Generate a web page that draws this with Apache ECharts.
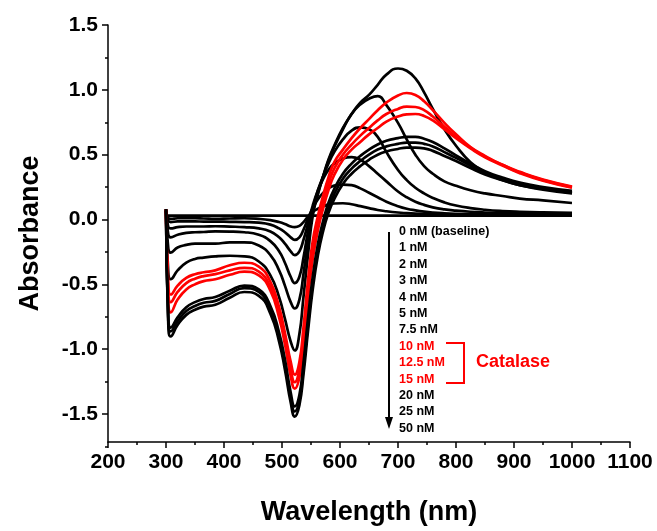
<!DOCTYPE html>
<html>
<head>
<meta charset="utf-8">
<script src="https://cdn.jsdelivr.net/npm/echarts@6/dist/echarts.min.js"></script>
<style>
html, body { margin: 0; padding: 0; background: #fff; }
#chart { width: 657px; height: 531px; }
</style>
</head>
<body>
<div id="chart"></div>
<script>
// wavelength grid (nm) shared by every spectrum
const wavelengths = [300, 304, 308, 320, 335, 350, 365, 385, 410, 435, 460, 480, 495, 505, 515, 522, 530, 537, 545, 553,
  562, 571, 580, 590, 605, 620, 635, 650, 665, 680, 700, 715, 730, 745, 760, 780, 800, 825, 850, 880, 910, 950, 1000];

// difference absorbance for each concentration
const nm0 = [0, 0, 0, 0, 0, 0, 0, 0, 0, 0, 0, 0, 0, 0, 0, 0, 0, 0, 0, 0,
  0, 0, 0, 0, 0, 0, 0, 0, 0, 0, 0, 0, 0, 0, 0, 0, 0, 0, 0, 0, 0, 0, 0];
const nm1 = [0.04, -0.02, -0.025, -0.02, -0.02, -0.02, -0.022, -0.025, -0.022, -0.02, -0.025, -0.035, -0.05, -0.065, -0.085, -0.09, -0.08, -0.05, -0.005, 0.03,
  0.055, 0.075, 0.088, 0.096, 0.098, 0.09, 0.075, 0.06, 0.045, 0.035, 0.025, 0.02, 0.016, 0.013, 0.011, 0.009, 0.008, 0.007, 0.006, 0.005, 0.005, 0.004, 0.004];
const nm2 = [0.04, -0.04, -0.05, -0.045, -0.045, -0.045, -0.046, -0.046, -0.048, -0.05, -0.055, -0.07, -0.10, -0.13, -0.17, -0.19, -0.17, -0.11, -0.02, 0.06,
  0.13, 0.18, 0.215, 0.237, 0.245, 0.24, 0.215, 0.18, 0.145, 0.11, 0.075, 0.055, 0.042, 0.032, 0.025, 0.019, 0.015, 0.012, 0.01, 0.008, 0.007, 0.006, 0.005];
const nm3 = [0.04, -0.09, -0.10, -0.09, -0.085, -0.085, -0.085, -0.083, -0.086, -0.09, -0.10, -0.125, -0.17, -0.22, -0.28, -0.31, -0.28, -0.19, -0.06, 0.08,
  0.20, 0.29, 0.36, 0.41, 0.45, 0.46, 0.44, 0.39, 0.33, 0.27, 0.19, 0.145, 0.11, 0.085, 0.066, 0.05, 0.04, 0.031, 0.025, 0.02, 0.017, 0.014, 0.012];
const nm4 = [0.04, -0.15, -0.17, -0.15, -0.135, -0.13, -0.128, -0.124, -0.125, -0.13, -0.15, -0.20, -0.28, -0.37, -0.48, -0.53, -0.48, -0.33, -0.12, 0.05,
  0.20, 0.31, 0.41, 0.50, 0.60, 0.67, 0.695, 0.68, 0.62, 0.50, 0.36, 0.28, 0.22, 0.175, 0.14, 0.105, 0.08, 0.06, 0.047, 0.037, 0.031, 0.026, 0.022];
const nm5 = [0.04, -0.26, -0.29, -0.25, -0.23, -0.22, -0.22, -0.22, -0.21, -0.21, -0.235, -0.31, -0.43, -0.55, -0.68, -0.73, -0.66, -0.46, -0.19, 0.02,
  0.18, 0.31, 0.43, 0.54, 0.68, 0.80, 0.875, 0.92, 0.94, 0.87, 0.73, 0.60, 0.48, 0.39, 0.33, 0.27, 0.235, 0.20, 0.175, 0.155, 0.135, 0.12, 0.10];
const nm7_5 = [0.05, -0.45, -0.50, -0.43, -0.37, -0.34, -0.33, -0.32, -0.315, -0.32, -0.36, -0.47, -0.64, -0.81, -0.99, -1.06, -0.93, -0.64, -0.30, 0.00,
  0.17, 0.31, 0.44, 0.55, 0.69, 0.80, 0.89, 0.95, 1.03, 1.11, 1.158, 1.14, 1.08, 0.97, 0.84, 0.68, 0.55, 0.42, 0.34, 0.28, 0.24, 0.21, 0.18];
const nm10 = [0.05, -0.55, -0.62, -0.55, -0.49, -0.46, -0.445, -0.43, -0.39, -0.37, -0.40, -0.52, -0.72, -0.92, -1.15, -1.25, -1.15, -0.88, -0.50, -0.20,
  0.00, 0.16, 0.30, 0.42, 0.52, 0.61, 0.69, 0.76, 0.83, 0.89, 0.945, 0.965, 0.95, 0.90, 0.83, 0.73, 0.64, 0.54, 0.47, 0.40, 0.345, 0.285, 0.23];
const nm12_5 = [0.05, -0.60, -0.68, -0.60, -0.53, -0.495, -0.475, -0.46, -0.43, -0.41, -0.44, -0.56, -0.76, -0.97, -1.21, -1.31, -1.21, -0.95, -0.58, -0.28,
  -0.06, 0.11, 0.25, 0.37, 0.48, 0.56, 0.63, 0.69, 0.75, 0.80, 0.84, 0.858, 0.855, 0.83, 0.78, 0.70, 0.62, 0.535, 0.465, 0.40, 0.34, 0.28, 0.225];
const nm15 = [0.05, -0.67, -0.76, -0.66, -0.58, -0.54, -0.515, -0.50, -0.465, -0.44, -0.47, -0.59, -0.80, -1.01, -1.26, -1.36, -1.27, -1.01, -0.64, -0.34,
  -0.11, 0.06, 0.20, 0.32, 0.44, 0.52, 0.58, 0.64, 0.69, 0.74, 0.78, 0.797, 0.80, 0.785, 0.75, 0.68, 0.61, 0.53, 0.46, 0.395, 0.335, 0.275, 0.22];
const nm20 = [0.05, -0.80, -0.88, -0.80, -0.72, -0.68, -0.655, -0.64, -0.59, -0.55, -0.58, -0.71, -0.92, -1.13, -1.39, -1.50, -1.41, -1.16, -0.80, -0.48,
  -0.22, -0.04, 0.10, 0.21, 0.33, 0.41, 0.47, 0.52, 0.56, 0.59, 0.61, 0.62, 0.62, 0.605, 0.58, 0.53, 0.475, 0.41, 0.35, 0.30, 0.26, 0.225, 0.195];
const nm25 = [0.05, -0.83, -0.91, -0.83, -0.75, -0.71, -0.685, -0.67, -0.615, -0.57, -0.60, -0.74, -0.96, -1.17, -1.43, -1.54, -1.45, -1.20, -0.85, -0.53,
  -0.27, -0.08, 0.06, 0.17, 0.29, 0.37, 0.43, 0.48, 0.52, 0.545, 0.565, 0.575, 0.575, 0.565, 0.545, 0.50, 0.455, 0.395, 0.34, 0.29, 0.25, 0.215, 0.185];
const nm50 = [0.05, -0.86, -0.95, -0.86, -0.78, -0.74, -0.715, -0.70, -0.645, -0.60, -0.63, -0.77, -0.99, -1.21, -1.47, -1.58, -1.49, -1.25, -0.90, -0.58,
  -0.31, -0.12, 0.02, 0.13, 0.25, 0.33, 0.39, 0.44, 0.48, 0.505, 0.525, 0.535, 0.535, 0.53, 0.51, 0.47, 0.43, 0.375, 0.325, 0.28, 0.24, 0.205, 0.175];

const concLabels = ['0 nM (baseline)', '1 nM', '2 nM', '3 nM', '4 nM', '5 nM', '7.5 nM',
  '10 nM', '12.5 nM', '15 nM', '20 nM', '25 nM', '50 nM'];
const spectra = [nm0, nm1, nm2, nm3, nm4, nm5, nm7_5, nm10, nm12_5, nm15, nm20, nm25, nm50];
const catalaseLabels = ['10 nM', '12.5 nM', '15 nM'];

const FONT = '"Liberation Sans", Arial, sans-serif';
const RED = '#ff0000';
const colorOf = name => catalaseLabels.includes(name) ? RED : '#000';

// pixel scale of the y axis: 1.5 sits at y=25, -1.5 at y=414
const TOP = 25, UNIT = 389 / 3;

const series = spectra.map((vals, i) => ({
  name: concLabels[i],
  type: 'line',
  xAxisIndex: 0,
  yAxisIndex: 0,
  data: wavelengths.map((w, j) => [w, vals[j]]),
  showSymbol: false,
  symbol: 'none',
  smooth: 0.5,
  lineStyle: { color: colorOf(concLabels[i]), width: 2.7 },
  silent: true,
  z: 2
}));

// annotation: list of concentrations with arrow, and the catalase bracket
const graphics = [];
concLabels.forEach((t, i) => {
  graphics.push({
    type: 'text', left: 399, top: 225 + i * 16.4,
    style: { text: t, fill: colorOf(t), font: 'bold 12.5px ' + FONT }
  });
});
graphics.push({
  type: 'line', shape: { x1: 389, y1: 232, x2: 389, y2: 420 },
  style: { stroke: '#000', lineWidth: 2 }
});
graphics.push({
  type: 'polygon', shape: { points: [[385, 417], [393, 417], [389, 429]] },
  style: { fill: '#000' }
});
graphics.push({
  type: 'polyline', shape: { points: [[446, 343], [464, 343], [464, 383], [446, 383]] },
  style: { stroke: RED, lineWidth: 2, fill: null }
});
graphics.push({
  type: 'text', left: 476, top: 353,
  style: { text: 'Catalase', fill: RED, font: 'bold 18px ' + FONT }
});

const axisFont = { fontFamily: FONT, fontWeight: 'bold', fontSize: 21, color: '#000' };
const blackLine = { color: '#000', width: 1.5 };

const chart = echarts.init(document.getElementById('chart'), null, { renderer: 'canvas' });
chart.setOption({
  animation: false,
  backgroundColor: '#fff',
  grid: [
    // data area, down to -1.78
    { left: 108, top: TOP, width: 522, height: 3.28 * UNIT },
    // minor ticks every 0.25 from -1.75
    { left: 108, top: TOP, width: 522, height: 3.25 * UNIT },
    // major ticks and labels every 0.5 from -1.5
    { left: 108, top: TOP, width: 522, height: 3 * UNIT }
  ],
  xAxis: [{
    type: 'value', gridIndex: 0, min: 200, max: 1100, interval: 100,
    name: 'Wavelength (nm)', nameLocation: 'middle', nameGap: 57,
    nameTextStyle: Object.assign({}, axisFont, { fontSize: 27 }),
    axisLine: { show: true, onZero: false, lineStyle: blackLine },
    axisTick: { show: true, inside: false, length: 6, lineStyle: blackLine },
    minorTick: { show: true, splitNumber: 2, length: 3, lineStyle: blackLine },
    axisLabel: Object.assign({}, axisFont, { margin: 10, formatter: v => String(v) }),
    splitLine: { show: false }
  }, {
    type: 'value', gridIndex: 1, min: 200, max: 1100, show: false
  }, {
    type: 'value', gridIndex: 2, min: 200, max: 1100, show: false
  }],
  yAxis: [{
    type: 'value', gridIndex: 0, min: -1.78, max: 1.5,
    name: 'Absorbance', nameLocation: 'middle', nameGap: 64, nameRotate: 90,
    nameTextStyle: Object.assign({}, axisFont, { fontSize: 27 }),
    axisLine: { show: true, onZero: false, lineStyle: blackLine },
    axisTick: { show: false },
    axisLabel: { show: false },
    splitLine: { show: false }
  }, {
    type: 'value', gridIndex: 1, min: -1.75, max: 1.5, interval: 0.25,
    axisLine: { show: false },
    axisTick: { show: true, length: 3, lineStyle: blackLine },
    axisLabel: { show: false },
    splitLine: { show: false }
  }, {
    type: 'value', gridIndex: 2, min: -1.5, max: 1.5, interval: 0.5,
    axisLine: { show: false },
    axisTick: { show: true, length: 6, lineStyle: blackLine },
    axisLabel: Object.assign({}, axisFont, { margin: 10, formatter: v => v.toFixed(1) }),
    splitLine: { show: false }
  }],
  series: series,
  graphic: graphics
});
</script>
</body>
</html>
